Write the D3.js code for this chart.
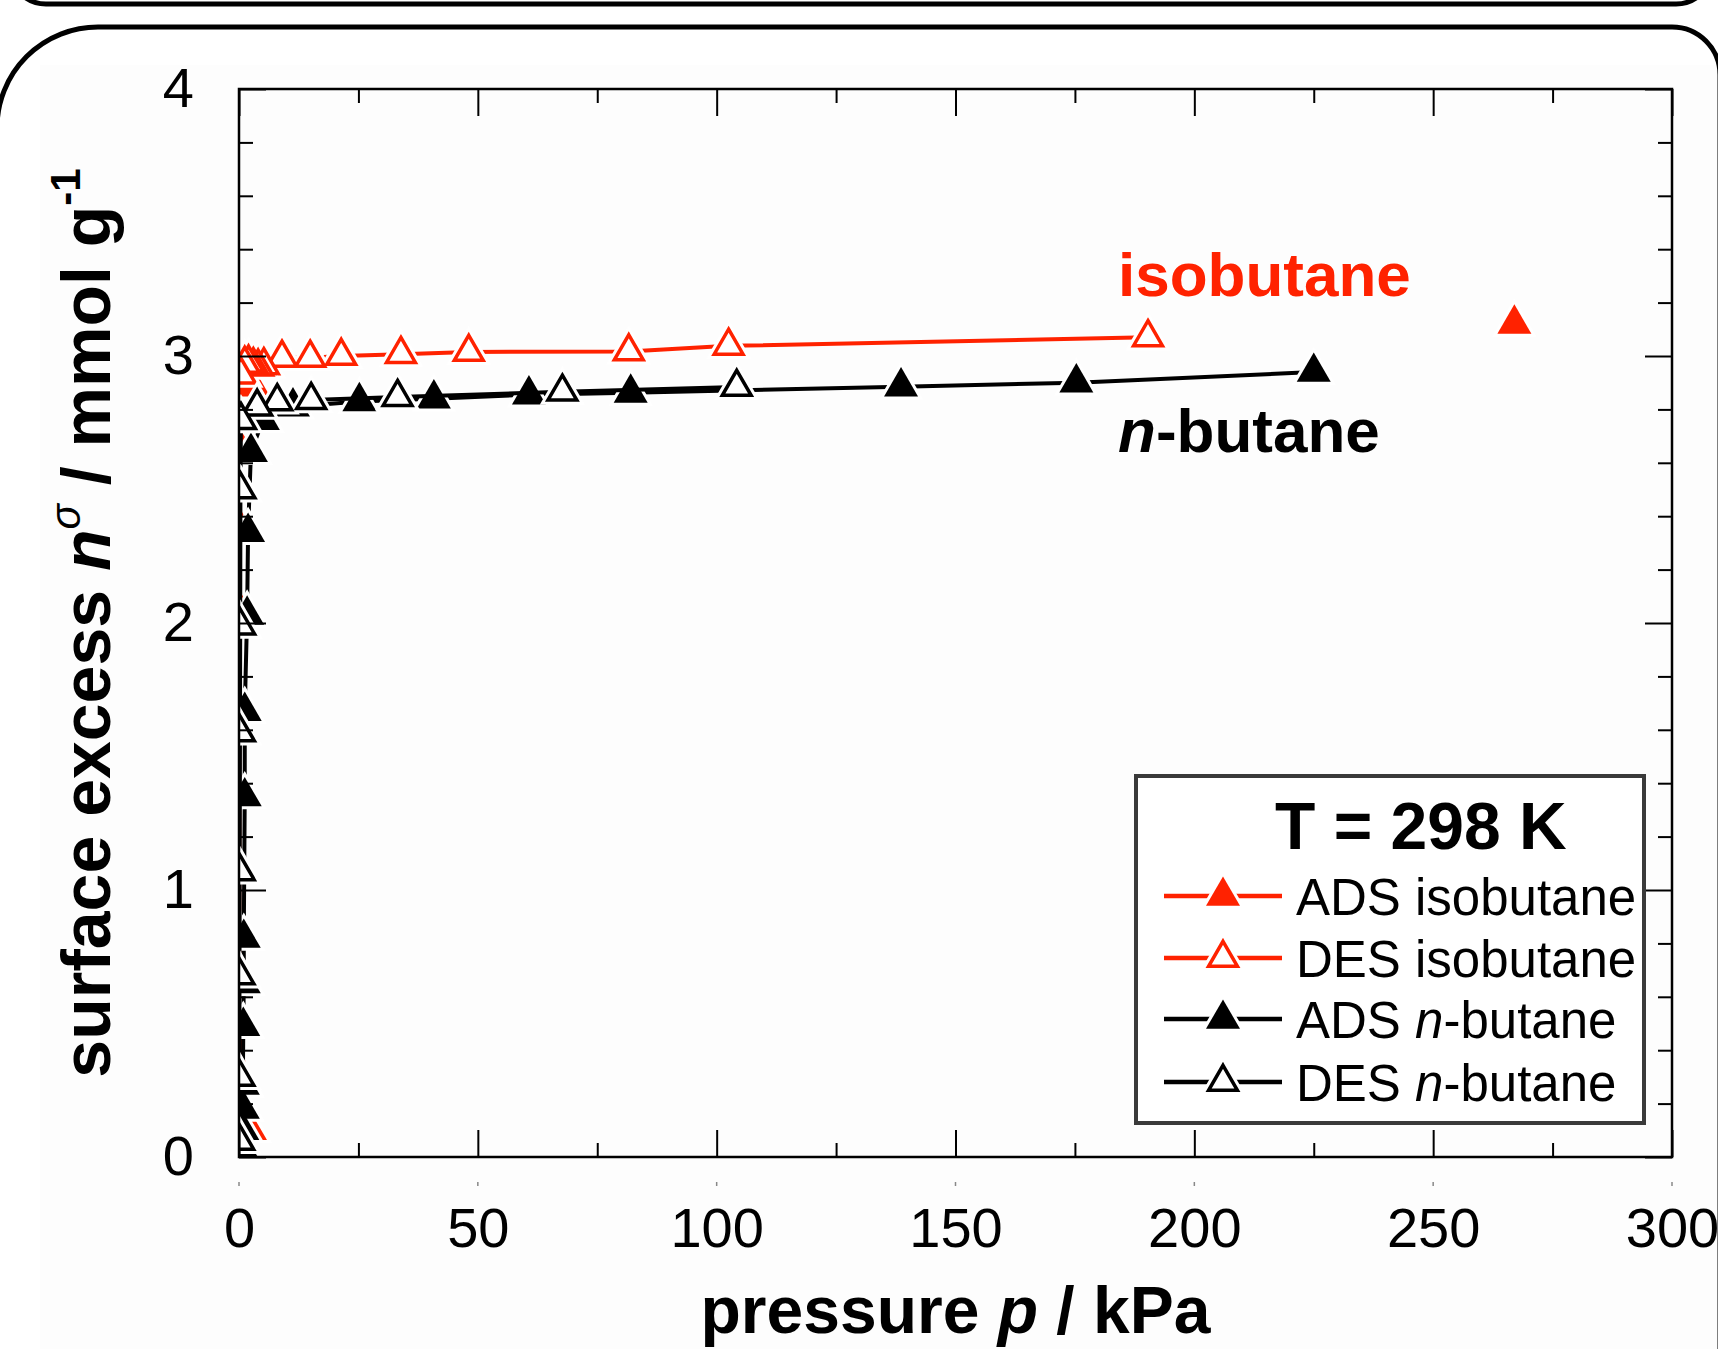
<!DOCTYPE html>
<html>
<head>
<meta charset="utf-8">
<script src="https://cdn.jsdelivr.net/npm/d3@7"></script>
<style>
  html, body { margin: 0; padding: 0; background: #fff; overflow: hidden; }
  svg { display: block; font-family: 'Liberation Sans', Arial, sans-serif; }
</style>
</head>
<body>
<div id="chart"></div>
<script>
(function() {
  var width = 1718;
  var height = 1349;

  // pressure p / kPa vs surface excess n / mmol g-1
  var adsIsobutane = [[0.05, 0.05], [2.3, 0.1], [0.05, 0.51], [0.05, 0.84], [0.05, 1.37], [0.05, 1.69], [0.05, 2.05], [0.05, 2.36], [0.05, 2.66], [0.2, 2.885], [2.8, 2.89], null, [267, 3.12]];
  var desIsobutane = [[190.3, 3.07], [102.5, 3.038], [81.6, 3.017], [48.1, 3.015], [33.9, 3.007], [21.4, 3.0], [14.9, 2.993], [9.0, 2.993], [5.2, 2.965], [4.0, 2.96], [3.0, 2.965], [2.0, 2.975], [1.2, 2.97], [0.4, 2.93]];
  var adsButane = [[0.6, 0.03], [0.7, 0.1], [0.8, 0.18], [0.8, 0.27], [0.9, 0.49], [1.0, 0.65], [1.0, 0.82], [1.2, 1.35], [1.2, 1.67], [1.7, 2.03], [1.9, 2.34], [2.5, 2.64], [5.0, 2.76], [11.3, 2.81], [25.2, 2.83], [40.8, 2.84], [60.7, 2.855], [82.0, 2.862], [138.6, 2.885], [175.3, 2.9], [225.0, 2.94]];
  var desButane = [[104.2, 2.884], [67.7, 2.866], [33.2, 2.846], [15.1, 2.835], [8.0, 2.83], [3.8, 2.81], [0.4, 2.76], [0.3, 2.5], [0.25, 1.99], [0.2, 1.59], [0.15, 1.07], [0.1, 0.68], [0.08, 0.3], [0.05, 0.06]];

  var xTicks = [0, 50, 100, 150, 200, 250, 300];
  var xMinorTicks = [25, 75, 125, 175, 225, 275];
  var yTicks = [0, 1, 2, 3, 4];
  var yMinorTicks = d3.range(0, 4.01, 0.2).filter(function(v) { return Math.abs(v - Math.round(v)) > 0.01; });

  var red = '#ff2200';
  var series = [
    { name: 'ADS isobutane', data: adsIsobutane, color: red, filled: true },
    { name: 'DES isobutane', data: desIsobutane, color: red, filled: false },
    { name: 'ADS ', italic: 'n', rest: '-butane', data: adsButane, color: '#000', filled: true },
    { name: 'DES ', italic: 'n', rest: '-butane', data: desButane, color: '#000', filled: false }
  ];

  var plot = { left: 239, right: 1672, top: 89, bottom: 1157 };
  var x = d3.scaleLinear().domain([0, 300]).range([plot.left, plot.right]);
  var y = d3.scaleLinear().domain([0, 4]).range([plot.bottom, plot.top]);

  var svg = d3.select('#chart').append('svg').attr('width', width).attr('height', height);

  // panel background and rounded borders
  svg.append('rect').attr('x', 40).attr('y', 65).attr('width', width).attr('height', height)
    .attr('fill', '#fdfdfd');
  svg.append('path')
    .attr('d', 'M10,-30 A36,36 0 0 0 46,4 L1676,4 A36,36 0 0 0 1712,-30')
    .attr('fill', 'none').attr('stroke', '#000').attr('stroke-width', 5);
  svg.append('path')
    .attr('d', 'M-3,1360 L-3,128 A101,101 0 0 1 98,27 L1672,27 A48,48 0 0 1 1720,75 L1720,1360')
    .attr('fill', 'none').attr('stroke', '#000').attr('stroke-width', 5);

  svg.append('defs').append('clipPath').attr('id', 'plotClip')
    .append('rect')
    .attr('x', plot.left).attr('y', plot.top)
    .attr('width', plot.right - plot.left).attr('height', plot.bottom - plot.top);

  var filledSym = d3.symbol().type(d3.symbolTriangle).size(500);
  var openSym = d3.symbol().type(d3.symbolTriangle).size(360);

  var line = d3.line()
    .defined(function(d) { return d !== null; })
    .x(function(d) { return x(d[0]); })
    .y(function(d) { return y(d[1]); });

  var dataLayer = svg.append('g').attr('clip-path', 'url(#plotClip)');

  series.forEach(function(s) {
    var g = dataLayer.append('g');
    var pts = s.data.filter(function(d) { return d !== null; });
    g.append('path')
      .attr('d', line(s.data))
      .attr('fill', 'none')
      .attr('stroke', s.color)
      .attr('stroke-width', 4)
      .attr('stroke-linejoin', 'round');
    drawMarkers(g, pts.map(function(d) { return [x(d[0]), y(d[1])]; }), s);
  });

  function drawMarkers(g, xy, s) {
    var sym = s.filled ? filledSym : openSym;
    g.selectAll('.halo').data(xy).enter().append('path')
      .attr('class', 'halo')
      .attr('transform', function(d) { return 'translate(' + d[0] + ',' + d[1] + ')'; })
      .attr('d', sym)
      .attr('fill', '#fff')
      .attr('stroke', '#fff')
      .attr('stroke-width', s.filled ? 6 : 9.5);
    g.selectAll('.mark').data(xy).enter().append('path')
      .attr('class', 'mark')
      .attr('transform', function(d) { return 'translate(' + d[0] + ',' + d[1] + ')'; })
      .attr('d', sym)
      .attr('fill', s.filled ? s.color : '#fff')
      .attr('stroke', s.filled ? 'none' : s.color)
      .attr('stroke-width', 3.5);
  }

  // axes: ticks point inward on all four sides
  function styleAxis(g) {
    g.select('.domain').remove();
    g.selectAll('.tick line').attr('stroke', '#000').attr('stroke-width', 2);
    g.selectAll('.tick text').attr('fill', '#000').attr('font-size', 56)
      .attr('font-family', "'Liberation Sans', Arial, sans-serif");
  }

  svg.append('g').attr('transform', 'translate(0,' + plot.bottom + ')')
    .call(d3.axisBottom(x).tickValues(xTicks).tickSize(-27).tickPadding(50).tickFormat(d3.format('d')))
    .call(styleAxis);
  svg.append('g').attr('transform', 'translate(0,' + plot.bottom + ')')
    .call(d3.axisBottom(x).tickValues(xMinorTicks).tickSize(-14).tickFormat(''))
    .call(styleAxis);
  svg.append('g').attr('transform', 'translate(0,' + plot.top + ')')
    .call(d3.axisTop(x).tickValues(xTicks).tickSize(-27).tickFormat(''))
    .call(styleAxis);
  svg.append('g').attr('transform', 'translate(0,' + plot.top + ')')
    .call(d3.axisTop(x).tickValues(xMinorTicks).tickSize(-14).tickFormat(''))
    .call(styleAxis);
  svg.append('g').attr('transform', 'translate(' + plot.left + ',0)')
    .call(d3.axisLeft(y).tickValues(yTicks).tickSize(-27).tickPadding(45).tickFormat(d3.format('d')))
    .call(styleAxis);
  svg.append('g').attr('transform', 'translate(' + plot.left + ',0)')
    .call(d3.axisLeft(y).tickValues(yMinorTicks).tickSize(-14).tickFormat(''))
    .call(styleAxis);
  svg.append('g').attr('transform', 'translate(' + plot.right + ',0)')
    .call(d3.axisRight(y).tickValues(yTicks).tickSize(-27).tickFormat(''))
    .call(styleAxis);
  svg.append('g').attr('transform', 'translate(' + plot.right + ',0)')
    .call(d3.axisRight(y).tickValues(yMinorTicks).tickSize(-14).tickFormat(''))
    .call(styleAxis);

  // faint marks under the axis
  svg.append('g').selectAll('line').data(xTicks).enter().append('line')
    .attr('x1', x).attr('x2', x).attr('y1', 1182).attr('y2', 1186)
    .attr('stroke', '#888').attr('stroke-width', 1.5);

  svg.append('rect')
    .attr('x', plot.left).attr('y', plot.top)
    .attr('width', plot.right - plot.left).attr('height', plot.bottom - plot.top)
    .attr('fill', 'none').attr('stroke', '#000').attr('stroke-width', 2.5);

  // axis titles
  var xt = svg.append('text').attr('x', (plot.left + plot.right) / 2).attr('y', 1333)
    .attr('text-anchor', 'middle').attr('font-size', 66).attr('font-weight', 'bold');
  xt.append('tspan').text('pressure ');
  xt.append('tspan').attr('font-style', 'italic').text('p');
  xt.append('tspan').text(' / kPa');

  var yt = svg.append('text')
    .attr('transform', 'translate(110,' + (plot.top + plot.bottom) / 2 + ') rotate(-90)')
    .attr('text-anchor', 'middle').attr('font-size', 68).attr('font-weight', 'bold');
  yt.append('tspan').text('surface excess ');
  yt.append('tspan').attr('font-style', 'italic').text('n');
  yt.append('tspan').attr('font-style', 'italic').attr('font-weight', 'normal')
    .attr('font-size', 42).attr('dy', -30).text('\u03c3');
  yt.append('tspan').attr('dy', 30).text(' / mmol g');
  yt.append('tspan').attr('font-size', 42).attr('dy', -30).text('-1');

  // series labels inside the plot
  svg.append('text').attr('x', 1118).attr('y', 296)
    .attr('font-size', 62).attr('font-weight', 'bold').attr('fill', red).text('isobutane');
  var nb = svg.append('text').attr('x', 1118).attr('y', 452)
    .attr('font-size', 62).attr('font-weight', 'bold');
  nb.append('tspan').attr('font-style', 'italic').text('n');
  nb.append('tspan').text('-butane');

  // legend
  var legend = svg.append('g');
  legend.append('rect').attr('x', 1136).attr('y', 776).attr('width', 508).attr('height', 347)
    .attr('fill', '#fff').attr('stroke', '#3a3a3a').attr('stroke-width', 4);
  legend.append('text').attr('x', 1275).attr('y', 849)
    .attr('font-size', 66).attr('font-weight', 'bold').text('T = 298 K');

  var baselines = [915, 977, 1038, 1101];
  series.forEach(function(s, i) {
    var ly = baselines[i] - 19;
    var g = legend.append('g');
    g.append('line').attr('x1', 1164).attr('x2', 1282).attr('y1', ly).attr('y2', ly)
      .attr('stroke', s.color).attr('stroke-width', 4.5);
    drawMarkers(g, [[1223, ly]], s);
    var t = g.append('text').attr('x', 1296).attr('y', baselines[i]).attr('font-size', 51);
    t.append('tspan').text(s.name);
    if (s.italic) {
      t.append('tspan').attr('font-style', 'italic').text(s.italic);
      t.append('tspan').text(s.rest);
    }
  });
}).call(this);
</script>
</body>
</html>
